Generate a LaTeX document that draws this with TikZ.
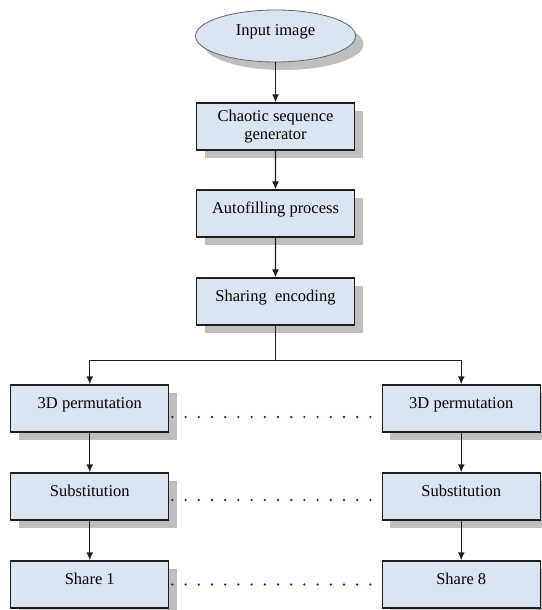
\documentclass[tikz,border=0pt]{standalone}
\usepackage{fontspec}
\setmainfont{Liberation Serif}
\usetikzlibrary{shapes.geometric,shadows,arrows.meta}
\definecolor{boxblue}{RGB}{219,229,241}
\definecolor{shadowgray}{RGB}{191,191,191}
\definecolor{edgegray}{RGB}{30,30,30}
\definecolor{dotblue}{RGB}{30,50,110}
\begin{document}
\begin{tikzpicture}[
  grow=down,
  font=\rmfamily\fontsize{16.5}{18}\selectfont,
  level 1/.style={level distance=90.5pt},
  level 2/.style={level distance=87pt},
  level 3/.style={level distance=88pt},
  level 4/.style={level distance=107pt, sibling distance=371.5pt,
    edge from parent path={(\tikzparentnode.south) -- ++(0pt,-34.5pt) -| (\tikzchildnode.north)}},
  level 5/.style={level distance=88pt,
    edge from parent path={(\tikzparentnode.south) -- (\tikzchildnode.north)}},
  level 6/.style={level distance=88pt},
  edge from parent/.style={draw=edgegray, line width=1.3pt, -{Latex[length=8pt,width=7pt]}},
  %  Styles of the blocks
  input_style/.style={ellipse, draw=gray!80!black, line width=0.8pt, fill=boxblue, minimum width=160pt, minimum height=52pt, inner sep=0pt, text height=11pt, text depth=11pt,
    drop shadow={shadow xshift=8pt, shadow yshift=-8pt, fill=shadowgray, opacity=1}},
  block_style/.style={rectangle, draw=edgegray, line width=1.3pt, fill=boxblue, minimum width=158pt, minimum height=47pt, align=center,
    drop shadow={shadow xshift=8pt, shadow yshift=-8pt, fill=shadowgray, opacity=1}},
  single_style/.style={block_style, text height=11pt, text depth=11pt},
  dots_style/.style={draw=dotblue, line width=2.6pt, line cap=round, dash pattern=on 0pt off 13.2pt}
]
\useasboundingbox (0,0) rectangle (541pt,-610pt);

\node[input_style] (input) at (275.5pt,-36pt) {Input image}
    %  Common part
    child {
        node[block_style] (chaos) {Chaotic sequence\\generator}
        child {
            node[single_style] (autofill) {Autofilling process}
            child {
                node[single_style] (sharing) {Sharing~~encoding}
                %  Left branch
                child {
                    node[single_style] (perm_a) {3D permutation}
                    child {
                        node[single_style] (subst_a) {Substitution}
                        child {node[single_style] (share_a) {Share 1}}
                    }
                }
                %  Right branch
                child {
                    node[single_style] (perm_b) {3D permutation}
                    child {
                        node[single_style] (subst_b) {Substitution}
                        child {node[single_style] (share_b) {Share 8}}
                    }
                }
            }
        }
    };

%  Dots between the two branches
\draw[dots_style] ([xshift=3pt, yshift=-8.5pt]perm_a.east) -- ([xshift=-11pt, yshift=-8.5pt]perm_b.west);
\draw[dots_style] ([xshift=3pt, yshift=-3.5pt]subst_a.east) -- ([xshift=-11pt, yshift=-3.5pt]subst_b.west);
\draw[dots_style] ([xshift=3pt]share_a.east) -- ([xshift=-11pt]share_b.west);
\end{tikzpicture}
\end{document}
